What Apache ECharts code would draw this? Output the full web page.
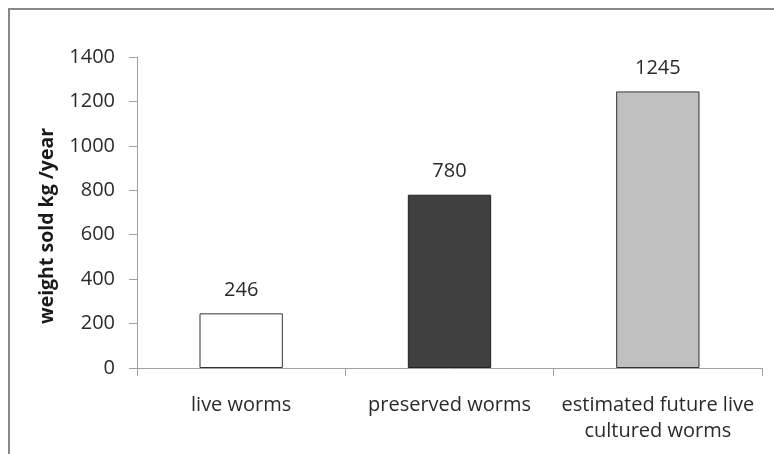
<!DOCTYPE html>
<html>
<head>
<meta charset="utf-8">
<script src="https://cdn.jsdelivr.net/npm/echarts@6/dist/echarts.min.js"></script>
<style>
html,body{margin:0;padding:0;background:#fff;}
#chart{width:774px;height:454px;}
</style>
</head>
<body>
<div id="chart"></div>
<script>
const categories = ['live worms', 'preserved worms', 'estimated future live\ncultured worms'];
const values = [246, 780, 1245];
const barColors = ['#ffffff', '#404040', '#c0c0c0'];
const yTicks = [0, 200, 400, 600, 800, 1000, 1200, 1400];
const yAxisTitle = 'weight sold kg /year';

const chart = echarts.init(document.getElementById('chart'), null, {renderer: 'canvas'});
const font = '"Open Sans", "Noto Sans", sans-serif';
chart.setOption({
  animation: false,
  backgroundColor: '#ffffff',
  grid: {left: 137, right: 12, top: 57, bottom: 86, containLabel: false},
  graphic: [
    {type: 'rect', shape: {x: 9, y: 9, width: 820, height: 520},
     style: {fill: 'none', stroke: '#888888', lineWidth: 2}, silent: true, z: 0},
    {type: 'text', x: 47, y: 226, rotation: Math.PI / 2,
     style: {text: yAxisTitle, font: 'bold 19.5px ' + font, fill: '#1a1a1a',
             textAlign: 'center', textVerticalAlign: 'middle'}}
  ],
  xAxis: {
    type: 'category',
    data: categories,
    axisLine: {show: true, lineStyle: {color: '#a0a0a0', width: 1}},
    axisTick: {show: true, length: 8, lineStyle: {color: '#a0a0a0'}},
    axisLabel: {color: '#2a2a2a', fontSize: 20, fontFamily: font, lineHeight: 26, margin: 24, interval: 0}
  },
  yAxis: {
    type: 'value',
    min: yTicks[0],
    max: yTicks[yTicks.length - 1],
    interval: yTicks[1] - yTicks[0],
    axisLine: {show: true, lineStyle: {color: '#a0a0a0', width: 1}},
    axisTick: {show: true, length: 8, lineStyle: {color: '#a0a0a0'}},
    splitLine: {show: false},
    axisLabel: {color: '#2a2a2a', fontSize: 20, fontFamily: font, margin: 22, formatter: v => String(v)}
  },
  series: [{
    type: 'bar',
    barWidth: '40%',
    data: values.map((v, i) => ({
      value: v,
      itemStyle: {color: barColors[i], borderColor: i === 1 ? '#222222' : '#333333', borderWidth: 1}
    })),
    label: {show: true, position: 'top', distance: 13, color: '#2a2a2a', fontSize: 20, fontFamily: font}
  }]
});
</script>
</body>
</html>
